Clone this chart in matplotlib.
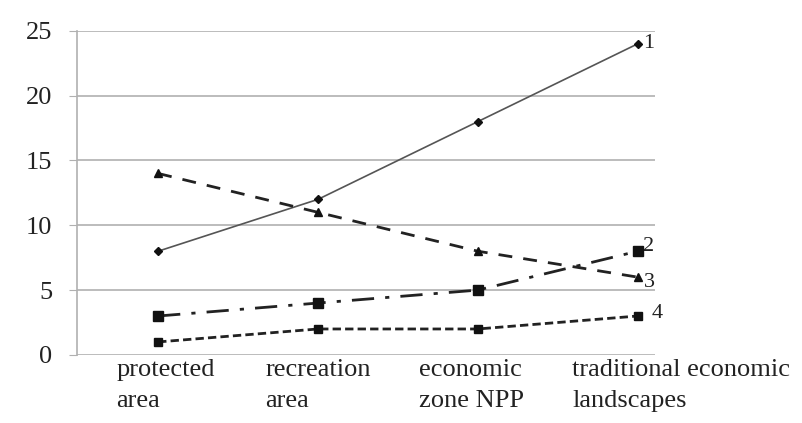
import matplotlib.pyplot as plt
import numpy as np

categories = ['protected\narea', 'recreation\narea', 'economic\nzone NPP',
              'traditional economic\nlandscapes']
series_names = ['1', '2', '3', '4']
s1 = [8, 12, 18, 24]
s2 = [3, 4, 5, 8]
s3 = [14, 11, 8, 6]
s4 = [1, 2, 2, 3]
yticks = [0, 5, 10, 15, 20, 25]

plt.rcParams['font.family'] = ['Liberation Serif', 'DejaVu Serif']

fig = plt.figure(figsize=(8.03, 4.23), dpi=100)
ax = fig.add_axes([0.096, 0.161, 0.72, 0.766])

x = np.arange(len(categories))
ax.plot(x, s1, color='#555555', lw=1.2, marker='D', ms=4,
        mfc='#111111', mec='#111111')
ax.plot(x, s2, color='#222222', lw=2, ls=(0, (8, 4, 1.5, 4)), marker='s', ms=7,
        mfc='#111111', mec='#111111')
ax.plot(x, s3, color='#222222', lw=2, ls=(0, (5, 4)), marker='^', ms=6,
        mfc='#111111', mec='#111111')
ax.plot(x, s4, color='#222222', lw=2, ls=(0, (3, 1.5)), marker='s', ms=6,
        mfc='#111111', mec='#111111')

# numbers at the line ends
offsets = [(5, 0), (5, 5), (6, -5), (14, 3)]
for name, vals, off in zip(series_names, [s1, s2, s3, s4], offsets):
    ax.annotate(name, (x[-1], vals[-1]), xytext=off, textcoords='offset pixels',
                ha='left', va='center', fontsize=16, color='#222222')

ax.set_xlim(-0.507, 3.11)
ax.set_ylim(0, 25)
ax.set_yticks(yticks)
ax.set_yticklabels([str(v) for v in yticks], fontsize=19, color='#222222')
ax.tick_params(axis='y', length=6, color='#b0b0b0', pad=12)

ax.set_xticks([])
shift = [0.26, 0.33, 0.37, 0.41]
for i, lab in enumerate(categories):
    ax.text(i - shift[i], -0.35, lab, ha='left', va='top', fontsize=19,
            color='#222222', linespacing=1.5)

ax.grid(axis='y', color='#b0b0b0', lw=1.2)
ax.set_axisbelow(True)
for side in ['top', 'right', 'bottom']:
    ax.spines[side].set_visible(False)
ax.spines['left'].set_color('#b0b0b0')
ax.spines['left'].set_linewidth(1.2)

plt.savefig('out.png', dpi=100)
